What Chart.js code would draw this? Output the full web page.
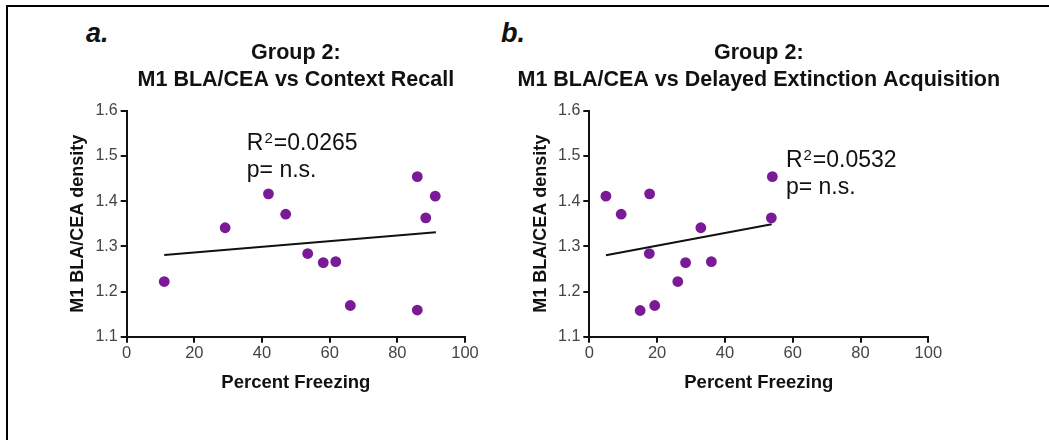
<!DOCTYPE html>
<html><head><meta charset="utf-8">
<script src="https://cdn.jsdelivr.net/npm/chart.js@4"></script>
<style>
html,body{margin:0;padding:0;background:#fff;}
body{width:1049px;height:440px;position:relative;overflow:hidden;font-family:"Liberation Sans",Arial,sans-serif;}
#frame{position:absolute;left:6px;top:5px;width:1100px;height:500px;border-top:2px solid #000;border-left:2px solid #000;}
.lbl{position:absolute;font:italic bold 27px "Liberation Sans",Arial,sans-serif;line-height:27px;color:#111;}
canvas{position:absolute;top:0;}
</style></head><body>
<div id="frame"></div>
<div class="lbl" style="left:86px;top:20px;">a.</div>
<div class="lbl" style="left:501px;top:20px;">b.</div>
<canvas id="ca" width="524" height="440" style="left:0px"></canvas>
<canvas id="cb" width="559" height="440" style="left:490px"></canvas>
<script>
// ---- data ----
const xTicks = [0, 20, 40, 60, 80, 100];
const yTicks = [1.1, 1.2, 1.3, 1.4, 1.5, 1.6];
const titleA = ["Group 2:", "M1 BLA/CEA vs Context Recall"];
const titleB = ["Group 2:", "M1 BLA/CEA vs Delayed Extinction Acquisition"];
const xTitle = "Percent Freezing";
const yTitle = "M1 BLA/CEA density";

const freezingA = [11.1, 29.1, 41.9, 47.0, 53.5, 58.1, 61.8, 66.1, 85.9, 88.4, 91.2, 85.9];
const densityA  = [1.222, 1.341, 1.416, 1.371, 1.284, 1.264, 1.266, 1.169, 1.454, 1.363, 1.411, 1.159];
const fitXA = [11.1, 91.4];
const fitYA = [1.281, 1.331];
const statsA = ["0.0265", "n.s."];

const freezingB = [4.9, 9.4, 17.8, 17.7, 15.0, 19.3, 26.1, 28.4, 32.9, 36.0, 54.0, 53.7];
const densityB  = [1.411, 1.371, 1.416, 1.284, 1.158, 1.169, 1.222, 1.264, 1.341, 1.266, 1.454, 1.363];
const fitXB = [4.9, 53.8];
const fitYB = [1.280, 1.349];
const statsB = ["0.0532", "n.s."];

// ---- drawing ----
const FONT = '"Liberation Sans", Arial, sans-serif';
const TICK_COLOR = '#444';

const textPlugin = {
  id: 'texts',
  afterDatasetsDraw(chart, args, opts) {
    const ctx = chart.ctx;
    const ca = chart.chartArea;
    ctx.save();
    ctx.fillStyle = '#111';
    ctx.textBaseline = 'alphabetic';
    // titles centred over the plot area
    ctx.textAlign = 'center';
    ctx.font = 'bold 21.5px ' + FONT;
    const cxm = (ca.left + ca.right) / 2;
    opts.title.forEach((t, i) => ctx.fillText(t, cxm, 59 + i * 26.5));
    // stats text
    ctx.textAlign = 'left';
    const x = chart.scales.x.getPixelForValue(opts.x);
    const y = chart.scales.y.getPixelForValue(opts.y);
    ctx.font = '23px ' + FONT;
    ctx.fillText('R', x, y);
    let cx = x + ctx.measureText('R').width;
    ctx.font = '15px ' + FONT;
    ctx.fillText('2', cx + 1, y - 7);
    cx += ctx.measureText('2').width + 2;
    ctx.font = '23px ' + FONT;
    ctx.fillText('=' + opts.r2, cx, y);
    ctx.fillText('p= ' + opts.p, x, y + 27);
    ctx.restore();
  }
};

function makeChart(id, xs, ys, fx, fy, title, stats, pos) {
  const pts = xs.map((v, i) => ({x: v, y: ys[i]}));
  const fit = fx.map((v, i) => ({x: v, y: fy[i]}));
  return new Chart(document.getElementById(id), {
    type: 'scatter',
    data: {
      datasets: [
        {data: pts, backgroundColor: '#7a1a96', borderWidth: 0, pointRadius: 5.4, pointHoverRadius: 5.4, order: 1},
        {data: fit, showLine: true, borderColor: '#111', borderWidth: 2, pointRadius: 0, fill: false, order: 2}
      ]
    },
    options: {
      responsive: false,
      animation: false,
      devicePixelRatio: 1,
      layout: {padding: {left: pos.padL, right: pos.padR, top: 110.7, bottom: 43.3}},
      plugins: {
        legend: {display: false},
        tooltip: {enabled: false},
        title: {display: false},
        texts: {title: title, x: pos.sx, y: pos.sy, r2: stats[0], p: stats[1]}
      },
      scales: {
        x: {
          type: 'linear', min: 0, max: 100,
          afterBuildTicks: s => { s.ticks = xTicks.map(v => ({value: v})); },
          afterFit: s => { s.height = 60; },
          ticks: {color: TICK_COLOR, font: {family: FONT, size: 16.5}, padding: 1, callback: v => String(v)},
          grid: {drawOnChartArea: false, drawTicks: true, tickLength: 6, color: '#111', lineWidth: 2},
          border: {display: true, color: '#111', width: 2},
          title: {display: true, text: xTitle, color: '#111', font: {family: FONT, size: 18.5, weight: 'bold'}, padding: {top: 0, bottom: 2.6}}
        },
        y: {
          type: 'linear', min: 1.1, max: 1.6,
          afterBuildTicks: s => { s.ticks = yTicks.map(v => ({value: v})); },
          afterFit: s => { s.width = 60; },
          ticks: {color: TICK_COLOR, font: {family: FONT, size: 16}, padding: 3, callback: v => v.toFixed(1)},
          grid: {drawOnChartArea: false, drawTicks: true, tickLength: 6, color: '#111', lineWidth: 2},
          border: {display: true, color: '#111', width: 2},
          title: {display: true, text: yTitle, color: '#111', font: {family: FONT, size: 18, weight: 'bold'}, padding: {top: 0.5, bottom: 0}}
        }
      }
    },
    plugins: [textPlugin]
  });
}

makeChart('ca', freezingA, densityA, fitXA, fitYA, titleA, statsA, {padL: 66.7, padR: 59, sx: 35.5, sy: 1.513});
makeChart('cb', freezingB, densityB, fitXB, fitYB, titleB, statsB, {padL: 39.3, padR: 120.7, sx: 58.0, sy: 1.4755});
</script>
</body></html>
